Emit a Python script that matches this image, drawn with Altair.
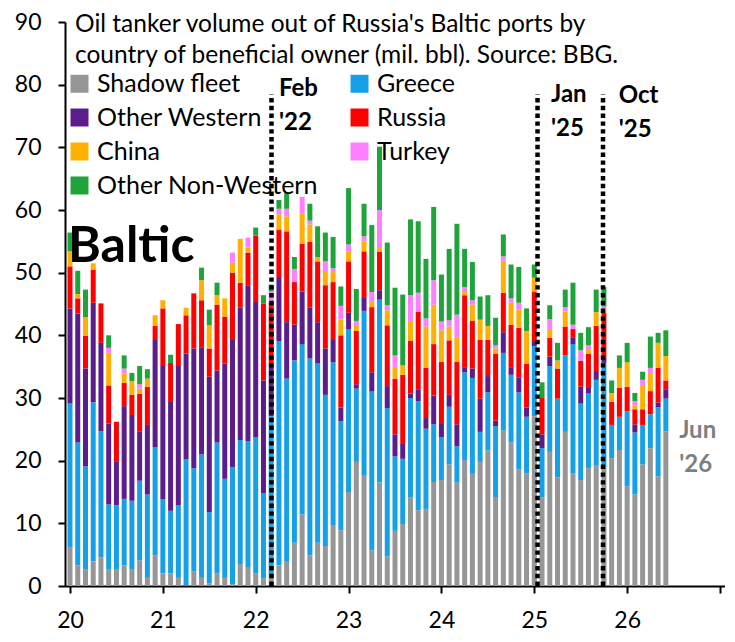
import altair as alt
import pandas as pd

# ---- data (mil. bbl per month, Jan 2020 .. Jun 2026) ----
series_names = ["Shadow fleet", "Greece", "Other Western", "Russia", "China", "Turkey", "Other Non-Western"]
series_colors = ["#969696", "#16A0E8", "#5B1D8C", "#FF0000", "#FFB000", "#FF80FF", "#1FA33B"]
year_ticks = [20, 21, 22, 23, 24, 25, 26, 27]
value_ticks = [0, 10, 20, 30, 40, 50, 60, 70, 80, 90]

shadow = [6.2, 3.3, 2.7, 3.9, 4.6, 2.7, 2.7, 3.3, 2.7, 4.1, 1.3, 4.9,
          2.0, 2.0, 1.3, 0, 2.3, 1.3, 0.4, 2.0, 1.3, 0.3, 3.5, 2.9,
          2.0, 1.2, 1.3, 3.3, 4.0, 6.9, 11.4, 4.9, 6.9, 6.4, 9.6, 8.9,
          15.0, 19.8, 17.6, 5.7, 16.5, 4.7, 8.8, 9.9, 14.1, 12.1, 12.3, 16.6,
          16.9, 19.4, 16.5, 20.1, 17.9, 19.8, 21.6, 14.2, 24.8, 22.9, 18.6, 18.0,
          27.1, 14.1, 21.4, 17.3, 24.6, 18.0, 16.9, 18.8, 19.3, 18.9, 20.4, 21.7,
          15.9, 14.6, 19.4, 22.0, 17.5, 24.7]
greece = [22.9, 19.6, 16.4, 25.4, 20.1, 10.3, 10.2, 10.6, 10.9, 12.7, 13.3, 17.2,
          11.9, 10.0, 11.6, 20.2, 16.5, 19.7, 11.4, 20.9, 15.8, 18.7, 19.8, 20.2,
          21.7, 13.6, 25.8, 35.8, 29.1, 29.1, 27.2, 31.4, 28.6, 24.1, 26.1, 17.4,
          26.0, 11.7, 26.3, 25.4, 29.2, 23.7, 11.9, 10.4, 15.9, 17.4, 12.8, 9.2,
          6.8, 9.2, 5.8, 14.0, 15.3, 4.8, 9.3, 11.3, 12.4, 10.8, 12.3, 9.0,
          11.2, 7.9, 13.7, 12.6, 12.2, 20.6, 12.2, 11.9, 13.6, 16.7, 5.3, 5.3,
          12.0, 9.9, 6.3, 5.4, 11.0, 5.2]
other_western = [15.2, 20.6, 15.6, 15.9, 14.1, 12.9, 6.9, 14.8, 13.7, 7.8, 11.1, 17.3,
                 21.2, 17.5, 22.2, 16.9, 19.1, 17.0, 21.6, 11.5, 18.4, 20.4, 21.2, 24.9,
                 21.6, 18.0, 8.0, 10.2, 9.0, 5.7, 8.4, 8.1, 6.6, 7.4, 3.7, 2.2,
                 2.6, 0.7, 2.2, 3.0, 1.5, 3.5, 3.5, 2.5, 0.7, 1.8, 1.7, 4.6,
                 2.3, 1.9, 3.5, 0.7, 1.5, 5.3, 2.6, 0.9, 3.3, 1.1, 2.4, 1.5,
                 0.8, 2.2, 1.5, 0, 0, 1.0, 2.7, 0.9, 1.4, 0.8, 0, 0,
                 0, 1.3, 0, 0, 0.8, 1.5]
russia = [6.7, 2.4, 5.2, 5.3, 6.3, 6.1, 6.4, 3.7, 3.2, 6.1, 6.1, 2.1,
          9.2, 6.1, 6.7, 6.1, 8.8, 7.6, 4.5, 10.5, 7.5, 10.6, 3.9, 5.2,
          10.6, 12.3, 10.1, 7.6, 14.5, 6.8, 7.6, 10.5, 9.7, 10.1, 9.1, 11.5,
          8.2, 8.5, 7.3, 10.4, 6.1, 9.7, 8.9, 10.9, 8.4, 12.5, 8.0, 8.2,
          9.8, 8.7, 10.0, 11.6, 7.6, 9.4, 5.8, 10.7, 6.3, 6.9, 7.9, 7.0,
          7.9, 5.8, 3.0, 4.8, 4.6, 1.4, 4.1, 5.5, 7.2, 7.2, 3.7, 4.6,
          3.9, 2.4, 2.5, 3.7, 5.5, 1.4]
china = [2.4, 0.7, 3.0, 1.0, 0, 5.2, 0, 1.5, 2.2, 0.8, 1.3, 1.7,
         1.3, 0, 0, 1.2, 0, 3.2, 3.7, 1.5, 2.9, 1.6, 7.0, 0.8,
         0, 0, 0, 2.4, 2.4, 0, 4.8, 2.8, 0.7, 2.1, 1.6, 2.5,
         1.6, 0.8, 1.6, 0.8, 0.8, 2.4, 1.7, 1.5, 3.2, 0, 6.6, 6.3,
         5.0, 2.2, 3.8, 0.5, 2.6, 3.2, 2.2, 0.8, 5.1, 3.5, 2.9, 5.2,
         2.2, 0, 1.4, 1.3, 2.4, 0, 0, 0.6, 2.2, 0.5, 1.4, 3.2,
         3.9, 0.6, 3.7, 2.9, 4.0, 3.9]
turkey = [0, 0, 0, 0, 0, 0.8, 0, 0.8, 0, 0.7, 0, 0,
          0, 0, 0, 0, 0, 0, 0, 0, 0, 1.6, 0, 1.6,
          0, 0, 1.8, 0.9, 1.2, 2.1, 2.7, 0.6, 0, 1.7, 0.6, 2.2,
          1.1, 0.8, 0.8, 1.6, 5.9, 0.8, 2.0, 0, 4.1, 3.0, 1.3, 3.9,
          1.4, 1.0, 3.7, 0.8, 0.7, 0, 0, 0.5, 0.7, 0.7, 1.1, 0,
          0, 0, 1.6, 0, 0.7, 0.7, 1.7, 0.7, 0, 0.5, 0, 0,
          0, 0.7, 1.0, 0.8, 0, 0]
other_nonwestern = [3.0, 3.7, 4.4, 0, 0, 2.0, 0, 2.1, 1.3, 2.9, 1.5, 0,
                    0, 1.3, 0, 0, 0, 2.0, 2.5, 2.0, 0, 0, 0, 0,
                    1.3, 1.3, 1.1, 1.4, 2.6, 1.9, 0, 2.7, 4.9, 4.6, 5.0, 3.1,
                    9.0, 5.1, 5.2, 10.7, 10.1, 10.0, 10.8, 11.3, 12.1, 11.4, 9.5, 11.7,
                    7.5, 11.4, 14.5, 6.1, 6.1, 3.7, 4.9, 4.4, 3.5, 5.4, 5.7, 3.6,
                    2.1, 2.5, 2.2, 2.8, 2.8, 6.7, 2.8, 2.9, 3.6, 3.1, 2.0, 2.0,
                    3.1, 1.3, 1.3, 5.0, 1.6, 4.1]

# event markers (year fraction) and their labels
event_x = [22.17, 25.035, 25.74]
event_top = [78.5, 78.5, 78.5]
event_label = ["Feb\n'22", "Jan\n'25", "Oct\n'25"]
event_label_x = [22.25, 25.18, 25.91]
event_label_y = [78.2, 77.3, 77.1]

title_lines = ["Oil tanker volume out of Russia's Baltic ports by",
               "country of beneficial owner (mil. bbl). Source: BBG."]

# ---- build tables ----
series_values = [shadow, greece, other_western, russia, china, turkey, other_nonwestern]
rows = []
for si, (name, vals) in enumerate(zip(series_names, series_values)):
    for k, v in enumerate(vals):
        rows.append({"t": 20 + k / 12, "v": v, "s": name, "o": si})
df = pd.DataFrame(rows)

events = pd.DataFrame({"x": event_x, "top": event_top, "label": event_label,
                       "lx": event_label_x, "ly": event_label_y})
one = pd.DataFrame({"a": [0]})
jun = pd.DataFrame({"x": [26.56], "y": [23.6], "label": ["Jun\n'26"]})

FONT = "Lato"
x_scale = alt.Scale(domain=[20, 27], nice=False, zero=False)
y_scale = alt.Scale(domain=[0, 90], nice=False)

bars = alt.Chart(df).mark_bar(size=5, clip=True).encode(
    x=alt.X("t:Q", scale=x_scale, title=None,
            axis=alt.Axis(values=year_ticks, format="d",
                          labelExpr="datum.value < 27 ? datum.label : ''",
                          labelPadding=16, title=None)),
    y=alt.Y("v:Q", stack="zero", scale=y_scale, title=None,
            axis=alt.Axis(values=value_ticks, labelPadding=17, title=None)),
    color=alt.Color("s:N", scale=alt.Scale(domain=series_names, range=series_colors),
                    legend=alt.Legend(orient="none", legendX=2, legendY=49, columns=2,
                                      direction="horizontal",
                                      symbolType="square", symbolSize=324,
                                      symbolStrokeWidth=0, symbolOpacity=1,
                                      labelFont=FONT, labelFontSize=25, labelColor="black",
                                      labelLimit=400, labelOffset=5,
                                      rowPadding=8, columnPadding=29,
                                      title=None, padding=0)),
    order=alt.Order("o:Q", sort="ascending"),
)

rules = alt.Chart(events).mark_rule(strokeDash=[4.4, 3.4], strokeWidth=4.5, color="black").encode(
    x=alt.X("x:Q", scale=x_scale, title=None),
    y=alt.Y("zero:Q", scale=y_scale, title=None),
    y2="top:Q",
).transform_calculate(zero="0")

event_text = alt.Chart(events).mark_text(
    align="left", baseline="alphabetic", font=FONT, fontSize=24, fontWeight="bold",
    lineBreak="\n", lineHeight=34, color="black").encode(
    x=alt.X("lx:Q", scale=x_scale, title=None),
    y=alt.Y("ly:Q", scale=y_scale, title=None),
    text="label:N",
)

jun_text = alt.Chart(jun).mark_text(
    align="left", baseline="alphabetic", font=FONT, fontSize=24, fontWeight="bold",
    lineBreak="\n", lineHeight=34, color="#7F7F7F").encode(
    x=alt.X("x:Q", scale=x_scale, title=None),
    y=alt.Y("y:Q", scale=y_scale, title=None),
    text="label:N",
)

title_text = alt.Chart(one).mark_text(
    align="left", baseline="alphabetic", font=FONT, fontSize=24.5, lineHeight=30.5,
    color="black").encode(
    x=alt.value(10), y=alt.value(10), text=alt.value(title_lines),
)

baltic_text = alt.Chart(one).mark_text(
    align="left", baseline="alphabetic", font=FONT, fontSize=50, fontWeight="bold",
    color="black").encode(
    x=alt.value(3), y=alt.value(240), text=alt.value("Baltic"),
)

chart = alt.layer(bars, rules, event_text, jun_text, title_text, baltic_text).properties(
    width=660, height=564,
    padding={"left": 6, "top": 3, "right": 0, "bottom": 0},
    background="white",
).configure_view(stroke=None).configure_axis(
    grid=False, domainColor="black", domainWidth=2,
    tickColor="black", tickWidth=2, tickSize=7,
    labelFont=FONT, labelFontSize=23, labelColor="black",
    labelFlush=False, labelOverlap=False, title=None,
).configure_axisX(labelPadding=16).configure_axisY(labelPadding=17)

chart.save("out.html", embed_options={"renderer": "svg", "actions": False})
